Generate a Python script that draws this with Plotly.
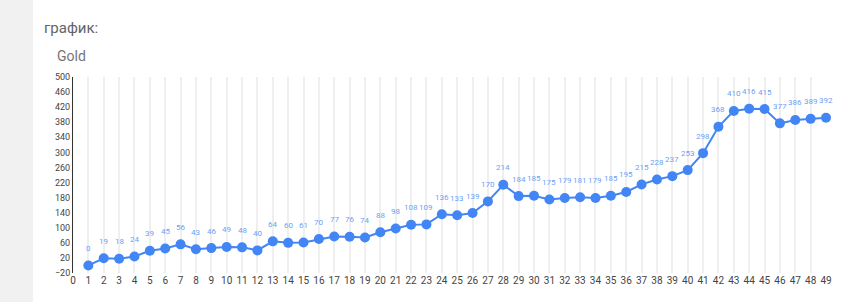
import plotly.graph_objects as go

x_vals = list(range(1, 50))
gold = [0, 19, 18, 24, 39, 45, 56, 43, 46, 49, 48, 40, 64, 60, 61, 70, 77, 76, 74, 88,
        98, 108, 109, 136, 133, 139, 170, 214, 184, 185, 175, 179, 181, 179, 185, 195,
        215, 228, 237, 253, 298, 368, 410, 416, 415, 377, 386, 389, 392]
x_ticks = list(range(0, 50))
y_ticks = list(range(-20, 501, 40))

L, R, T, B = 73, 28, 77, 29
W, H = 854, 302
pw = W - L - R
ph = H - T - B

fig = go.Figure()
fig.add_trace(go.Scatter(
    x=x_vals, y=gold, mode="lines+markers",
    line=dict(color="#4285f4", width=2),
    marker=dict(color="#4285f4", size=10),
    cliponaxis=False, hoverinfo="skip"
))

annotations = [
    dict(x=xv, y=yv, xref="x", yref="y", text=str(yv), showarrow=False,
         yshift=17, font=dict(size=8, color="#6b9ff5", family="Roboto, Arial"))
    for xv, yv in zip(x_vals, gold)
]
annotations += [
    dict(text="график:", xref="paper", yref="paper",
         x=(42 - L) / pw, y=1 + (T - 28) / ph, xanchor="left", yanchor="middle",
         showarrow=False, font=dict(size=15, color="#5f6368", family="Roboto, Arial")),
    dict(text="Gold", xref="paper", yref="paper",
         x=(55 - L) / pw, y=1 + (T - 56) / ph, xanchor="left", yanchor="middle",
         showarrow=False, font=dict(size=14, color="#757575", family="Roboto, Arial")),
]

fig.update_layout(
    width=W, height=H,
    margin=dict(l=L, r=R, t=T, b=B),
    paper_bgcolor="white", plot_bgcolor="white",
    showlegend=False,
    xaxis=dict(range=[0, 49], tickvals=x_ticks, showgrid=True, gridcolor="#efefef",
               gridwidth=1.5, zeroline=False, showline=False, ticks="",
               tickfont=dict(size=10, color="#444", family="Roboto, Arial")),
    yaxis=dict(range=[-20, 500], tickvals=y_ticks, showgrid=False, zeroline=False,
               showline=True, linecolor="#333", linewidth=1, ticks="",
               tickfont=dict(size=9, color="#444", family="Roboto, Arial")),
    shapes=[dict(type="rect", xref="paper", yref="paper",
                 x0=-L / pw, x1=(33 - L) / pw, y0=-2, y1=3,
                 fillcolor="#f1f1f1", line=dict(width=0), layer="below")],
    annotations=annotations,
)

fig.write_html("out.html")
